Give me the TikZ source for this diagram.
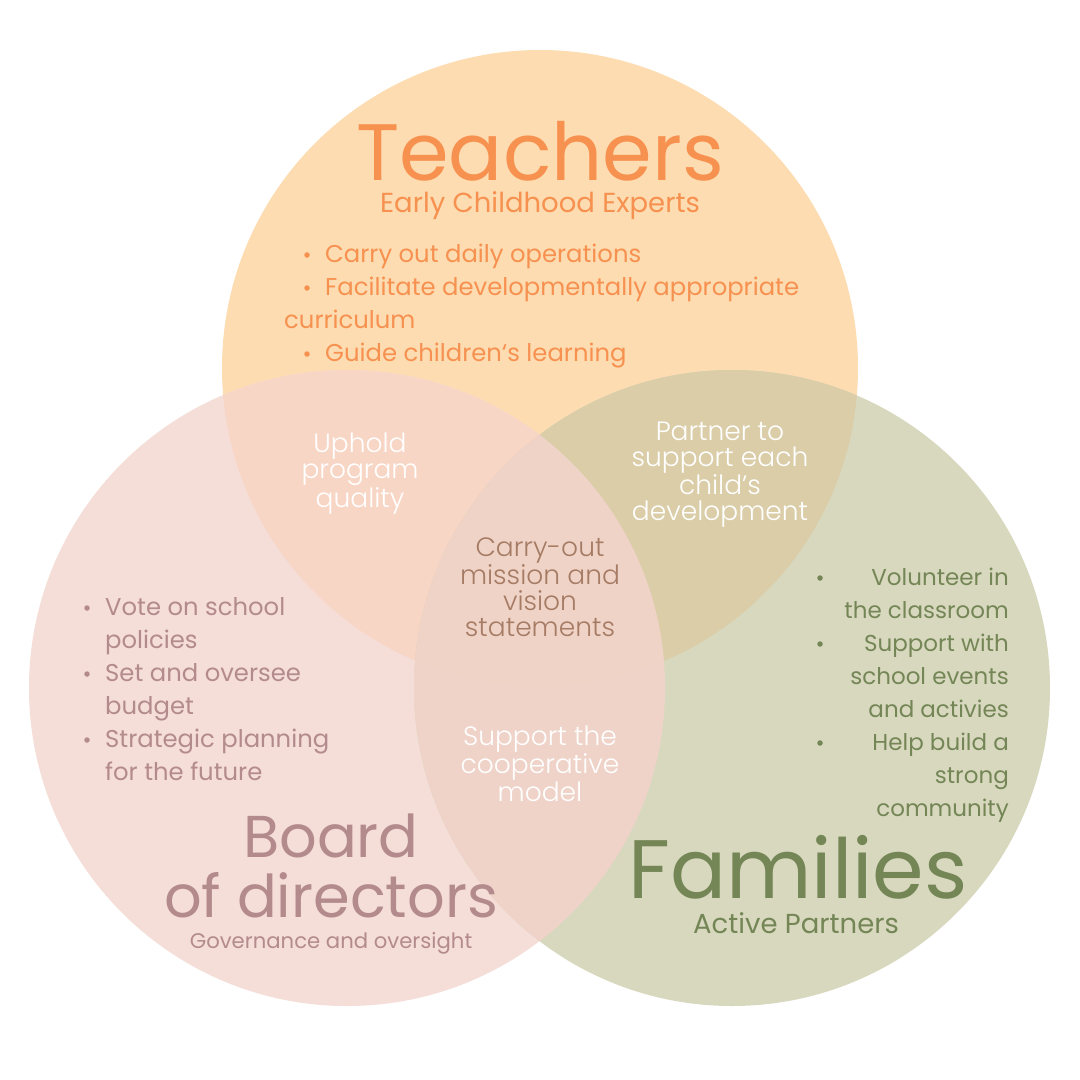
\documentclass[tikz,border=0pt]{standalone}
\usepackage{fontspec}
\setmainfont{Poppins}
\newfontfamily\lightfont{Poppins}[UprightFont={* Light}]

\definecolor{c_top}{HTML}{FDDCB1}
\definecolor{c_left}{HTML}{F5DDD8}
\definecolor{c_right}{HTML}{D8D8BE}
\definecolor{c_tl}{HTML}{F8D6C5}
\definecolor{c_tr}{HTML}{DACDA8}
\definecolor{c_lr}{HTML}{EFD3C8}
\definecolor{c_all}{HTML}{EFD3C7}
\definecolor{t_teach}{HTML}{F79150}
\definecolor{t_board}{HTML}{B48B8C}
\definecolor{t_fam}{HTML}{748656}
\definecolor{t_core}{HTML}{A67B64}

\tikzset{
	vtext/.style = {
		inner sep=0pt,
		align=center,
		anchor=base
	},
	node_title/.style = {
		vtext,
		font=\fontsize{80}{80}\selectfont
	},
	node_sub/.style = {
		vtext,
		font=\fontsize{27.5}{27.5}\selectfont
	},
	node_item/.style = {
		vtext,
		anchor=base west,
		font=\fontsize{24.3}{24.3}\selectfont
	},
	node_lens/.style = {
		vtext,
		white,
		font=\lightfont\fontsize{26.5}{26}\selectfont
	},
	node_dot/.style = {
		circle,
		inner sep=0pt,
		minimum size=5.5pt
	}
}

\begin{document}
\begin{tikzpicture}[x=1pt, y=-1pt]
\useasboundingbox (0,0) rectangle (1080,1080);
\fill[white] (0,0) rectangle (1080,1080);

\coordinate (ctop) at (540,368);
\coordinate (cleft) at (347,688);
\coordinate (cright) at (732,688);

% circles
\fill[c_top] (ctop) circle[radius=318pt];
\fill[c_left] (cleft) circle[radius=318pt];
\fill[c_right] (cright) circle[radius=318pt];
% overlaps
\begin{scope}
	\clip (ctop) circle[radius=318pt];
	\fill[c_tl] (cleft) circle[radius=318pt];
	\fill[c_tr] (cright) circle[radius=318pt];
\end{scope}
\begin{scope}
	\clip (cleft) circle[radius=318pt];
	\fill[c_lr] (cright) circle[radius=318pt];
	\clip (cright) circle[radius=318pt];
	\fill[c_all] (ctop) circle[radius=318pt];
\end{scope}

% teachers
\node [node_title, t_teach] (teach) at (540,180) {Teachers};
\node [node_sub, t_teach] (teach_sub) at (540,212) {Early Childhood Experts};
\node [node_item, t_teach] (teach_i1) at (325,262) {Carry out daily operations};
\node [node_item, t_teach] (teach_i2) at (325,295) {Facilitate developmentally appropriate};
\node [node_item, t_teach] (teach_i2b) at (284,328) {curriculum};
\node [node_item, t_teach] (teach_i3) at (325,361) {Guide children‘s learning};
\foreach \yy in {262,295,361}
	\node [node_dot, fill=t_teach] at (307,\yy-7) {};

% board
\node [node_title, t_board, font=\fontsize{59}{60}\selectfont] (board) at (331,917) {Board\\of directors};
\node [node_sub, t_board, font=\fontsize{21.2}{21.2}\selectfont] (board_sub) at (331,948) {Governance and oversight};
\node [node_item, t_board] (board_i1) at (105,615) {Vote on school};
\node [node_item, t_board] (board_i1b) at (105,648) {policies};
\node [node_item, t_board] (board_i2) at (105,681) {Set and oversee};
\node [node_item, t_board] (board_i2b) at (105,714) {budget};
\node [node_item, t_board] (board_i3) at (105,747) {Strategic planning};
\node [node_item, t_board] (board_i3b) at (105,780) {for the future};
\foreach \yy in {615,681,747}
	\node [node_dot, fill=t_board] at (87,\yy-7) {};

% families
\node [node_title, t_fam, font=\fontsize{83}{83}\selectfont] (fam) at (798,898) {Families};
\node [node_sub, t_fam] (fam_sub) at (796,933) {Active Partners};
\foreach \txt [count=\i] in {Volunteer in, the classroom, Support with, school events, and activies, Help build a, strong, community}
	\node [node_item, t_fam, font=\fontsize{23}{23}\selectfont, anchor=base east] (fam_i\i) at (1009,552+33*\i) {\txt};
\foreach \yy in {585,651,750}
	\node [node_dot, fill=t_fam] at (820,\yy-7) {};

% overlaps
\node [node_lens] (tl) at (360,507) {Uphold\\program\\quality};
\node [node_lens] (tr) at (720,520) {Partner to\\support each\\child’s\\development};
\node [node_lens, t_core] (core) at (540,636) {Carry-out\\mission and\\vision\\statements};
\node [node_lens] (lr) at (540,801) {Support the\\cooperative\\model};
\end{tikzpicture}
\end{document}
